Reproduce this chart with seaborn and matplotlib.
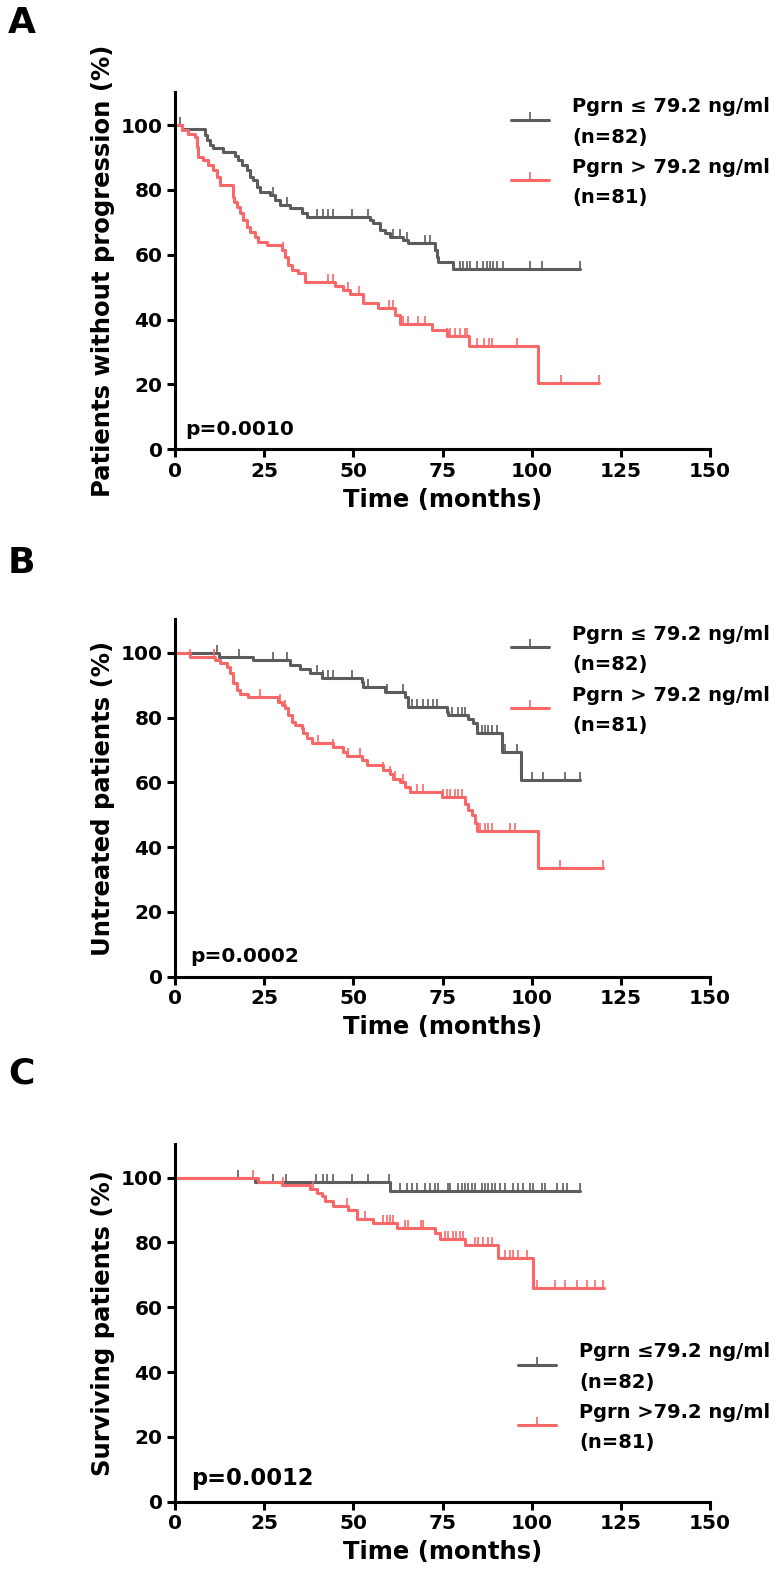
import numpy as np
import pandas as pd
import matplotlib
matplotlib.use("Agg")
import matplotlib.pyplot as plt
import seaborn as sns
from matplotlib.lines import Line2D
from matplotlib.legend_handler import HandlerLine2D

# ---------------- data ----------------
# Panel A: progression-free
A_low_t = [0, 2.0, 8.4, 9.0, 9.8, 10.6, 13.5, 16.8, 17.8, 18.7, 20.1, 21.0, 22.0, 23.1, 23.8, 26.6, 28.0, 29.4,
           32.2, 35.5, 36.9, 54.7, 55.6, 57.5, 58.9, 60.3, 64.0, 65.4, 72.9, 73.4, 73.8, 78.0, 113.5]
A_low_s = [100, 98.8, 96.9, 95.4, 94.0, 92.8, 91.8, 90.4, 89.2, 87.6, 86.1, 84.1, 83.1, 81.0, 79.4, 78.4, 76.9, 75.3,
           74.3, 72.8, 71.7, 70.7, 69.7, 67.6, 66.6, 65.6, 64.5, 63.5, 61.4, 59.4, 57.9, 55.6, 55.6]
A_low_c = [1.5, 27.6, 31.3, 39.7, 41.6, 43.0, 44.4, 49.5, 54.2, 61.2, 63.1, 65.0, 70.1, 71.5, 79.9, 80.8, 81.8,
           82.7, 84.6, 86.4, 87.4, 88.3, 89.2, 90.2, 92.1, 99.5, 102.8, 113.5]
A_high_t = [0, 1.9, 3.7, 5.6, 6.1, 6.5, 7.9, 9.3, 10.7, 11.7, 12.6, 16.2, 16.6, 17.3, 18.2, 19.2, 20.1, 21.0, 22.4,
            23.4, 25.7, 29.9, 30.8, 31.8, 32.7, 34.6, 36.4, 44.8, 47.1, 49.1, 52.6, 56.8, 61.6, 63.0, 72.1, 76.2,
            82.5, 101.8, 118.8]
A_high_s = [100, 98.5, 97.4, 96.4, 93.3, 90.2, 89.2, 87.6, 86.1, 84.1, 81.5, 77.9, 76.3, 74.8, 72.8, 70.7, 68.6,
            67.1, 65.5, 63.9, 62.9, 61.4, 59.3, 56.7, 55.2, 54.3, 51.6, 50.4, 49.2, 47.9, 45.2, 43.6, 41.5, 38.8,
            36.7, 35.1, 31.9, 20.6, 20.6]
A_high_c = [30.3, 42.9, 44.3, 48.5, 51.5, 52.7, 60.0, 61.1, 63.9, 65.3, 68.1, 70.2, 76.3, 77.0, 78.4, 79.8, 81.2,
            81.9, 84.6, 86.7, 88.1, 88.8, 95.8, 108.3, 118.8]

# Panel B: untreated
B_low_t = [0, 12.2, 22.0, 32.2, 35.0, 37.9, 41.1, 52.3, 52.8, 58.9, 64.5, 65.4, 76.2, 76.6, 82.2, 83.6, 84.6,
           91.6, 96.9, 113.5]
B_low_s = [100, 98.6, 97.6, 96.3, 94.9, 93.7, 92.3, 90.9, 89.5, 88.0, 86.4, 83.1, 81.8, 80.8, 79.4, 78.2, 75.3,
           69.4, 60.7, 60.7]
B_low_c = [11.7, 18.0, 27.6, 31.3, 39.7, 41.6, 43.0, 44.4, 49.5, 54.2, 59.3, 64.0, 66.4, 67.8, 69.6, 71.0, 72.4,
           73.4, 77.6, 79.4, 80.4, 81.3, 86.0, 86.9, 87.8, 88.8, 90.2, 92.5, 95.8, 100.0, 103.3, 109.3, 113.5]
B_high_t = [0, 4.2, 11.2, 12.6, 14.5, 15.4, 16.4, 17.3, 18.2, 20.6, 29.0, 29.9, 30.8, 31.8, 32.7, 33.6, 35.5,
            36.0, 36.9, 38.3, 44.4, 47.2, 48.1, 52.3, 53.7, 58.4, 60.3, 61.2, 63.1, 64.5, 65.9, 74.8, 81.3, 82.2,
            83.2, 84.1, 84.6, 101.9, 120.0]
B_high_s = [100, 98.8, 97.8, 96.9, 95.7, 93.6, 90.5, 88.5, 87.4, 86.4, 84.9, 83.9, 82.9, 80.8, 78.7, 77.7, 76.7,
            75.1, 73.6, 72.2, 71.0, 69.4, 68.1, 66.8, 65.3, 63.7, 62.7, 61.1, 60.1, 58.7, 57.0, 55.5, 53.4, 51.4,
            49.8, 47.3, 45.0, 33.7, 33.7]
B_high_c = [4.2, 10.8, 23.8, 29.4, 30.8, 40.2, 44.4, 48.6, 51.9, 58.4, 60.3, 61.7, 64.0, 67.8, 69.6, 75.2, 76.2,
            77.1, 78.5, 79.4, 80.4, 85.5, 86.9, 87.8, 88.8, 93.9, 95.3, 107.9, 120.0]

# Panel C: survival
C_low_t = [0, 22.4, 60.3, 113.5]
C_low_s = [100, 98.8, 95.9, 95.9]
C_low_c = [17.8, 27.6, 31.1, 39.4, 41.6, 42.5, 44.4, 49.5, 54.2, 60.0, 63.1, 65.0, 66.4, 67.8, 70.1, 71.5, 72.9,
           73.8, 76.6, 77.1, 79.4, 80.4, 81.3, 82.2, 83.2, 84.1, 86.0, 86.9, 87.8, 88.8, 89.7, 91.1, 92.5, 94.9,
           96.3, 97.7, 99.5, 100.5, 102.8, 103.7, 107.0, 108.9, 109.8, 113.5]
C_high_t = [0, 23.4, 29.9, 37.9, 39.7, 41.1, 42.1, 44.4, 48.6, 50.9, 55.6, 62.2, 73.0, 74.2, 81.3, 90.7, 100.5, 120.3]
C_high_s = [100, 98.8, 97.6, 96.6, 95.3, 94.3, 92.8, 91.2, 90.0, 87.1, 85.9, 84.5, 82.8, 81.2, 79.2, 75.3, 65.9, 65.9]
C_high_c = [22.0, 30.4, 38.8, 48.1, 53.3, 58.4, 59.3, 60.3, 61.2, 64.5, 65.4, 69.1, 69.6, 75.7, 76.6, 78.0, 78.9,
            79.9, 80.8, 84.1, 85.0, 86.4, 87.8, 88.8, 92.5, 93.9, 94.9, 96.3, 98.6, 101.4, 106.5, 109.3, 112.6,
            115.4, 117.8, 120.1]

panel_letters = ["A", "B", "C"]
y_labels = ["Patients without progression (%)", "Untreated patients (%)", "Surviving patients (%)"]
p_texts = ["p=0.0010", "p=0.0002", "p=0.0012"]
legend_labels = [
    ["Pgrn \u2264 79.2 ng/ml\n(n=82)", "Pgrn > 79.2 ng/ml\n(n=81)"],
    ["Pgrn \u2264 79.2 ng/ml\n(n=82)", "Pgrn > 79.2 ng/ml\n(n=81)"],
    ["Pgrn \u226479.2 ng/ml\n(n=82)", "Pgrn >79.2 ng/ml\n(n=81)"],
]
x_label = "Time (months)"
x_ticks = [0, 25, 50, 75, 100, 125, 150]
y_ticks = [0, 20, 40, 60, 80, 100]

# ---------------- style ----------------
sns.set_theme(style="ticks")
plt.rcParams.update({
    "font.weight": "bold",
    "axes.labelweight": "bold",
    "axes.linewidth": 2.2,
    "xtick.major.width": 2.2,
    "ytick.major.width": 2.2,
    "xtick.major.size": 6,
    "ytick.major.size": 6,
    "xtick.major.pad": 3,
    "ytick.major.pad": 3,
    "xtick.color": "black",
    "ytick.color": "black",
    "axes.edgecolor": "black",
    "text.color": "black",
    "axes.labelcolor": "black",
})
plt.rcParams["font.family"] = ["DejaVu Sans"]

GREY = "#5c5c5c"
RED = "#f86868"

W, H = 775, 1594
fig = plt.figure(figsize=(W / 100, H / 100), dpi=100)


class RaisedLineHandler(HandlerLine2D):
    """Legend line drawn slightly above the centre of the two-line label."""
    def create_artists(self, legend, orig_handle, xdescent, ydescent, width, height, fontsize, trans):
        arts = super().create_artists(legend, orig_handle, xdescent, ydescent, width, height, fontsize, trans)
        for a in arts:
            a.set_ydata(np.asarray(a.get_ydata(), dtype=float) + 0.16 * fontsize)
        return arts


def add_ax(left, top, right, bottom):
    return fig.add_axes([left / W, 1 - bottom / H, (right - left) / W, (bottom - top) / H])


def step_val(t, s, c):
    t = np.asarray(t)
    s = np.asarray(s)
    idx = np.searchsorted(t, np.asarray(c), side="right") - 1
    return s[np.clip(idx, 0, len(s) - 1)]


boxes = [(175, 91.7, 710, 449.3), (175, 619.3, 710, 976.8), (175, 1144.3, 710, 1501.7)]
series = [
    ((A_low_t, A_low_s, A_low_c), (A_high_t, A_high_s, A_high_c)),
    ((B_low_t, B_low_s, B_low_c), (B_high_t, B_high_s, B_high_c)),
    ((C_low_t, C_low_s, C_low_c), (C_high_t, C_high_s, C_high_c)),
]
legend_anchor = [(0.6275, 0.984), (0.6275, 0.984), (0.641, 0.446)]
p_pos = [(3.0, 4.4), (4.4, 4.7), (4.4, 5.0)]
p_size = [14.5, 14.5, 16.3]
letter_base = [33, 573, 1083]

for i in range(3):
    ax = add_ax(*boxes[i])
    for (t, s, c), col in zip(series[i], [GREY, RED]):
        df = pd.DataFrame({"t": t, "s": s})
        sns.lineplot(data=df, x="t", y="s", ax=ax, color=col, lw=2.2, estimator=None, sort=False,
                     drawstyle="steps-post", legend=False)
        cy = step_val(t, s, c)
        ax.plot(c, cy, ls="none", marker=2, ms=5.5, mew=1.2, color=col, clip_on=False)
    ax.set_xlim(0, 150)
    ax.set_ylim(0, 110.3)
    ax.set_xticks(x_ticks)
    ax.set_yticks(y_ticks)
    ax.tick_params(labelsize=14.5)
    for lab in ax.get_xticklabels() + ax.get_yticklabels():
        lab.set_fontweight("bold")
    sns.despine(ax=ax)
    ax.set_xlabel(x_label, fontsize=17.5, fontweight="bold", labelpad=5)
    ax.set_ylabel(y_labels[i], fontsize=17.5, fontweight="bold", labelpad=4)
    ax.text(p_pos[i][0], p_pos[i][1], p_texts[i], fontsize=p_size[i], fontweight="bold", va="baseline")
    handles = [Line2D([0], [0], color=GREY, lw=2.2, marker=2, ms=6, mew=1.2),
               Line2D([0], [0], color=RED, lw=2.2, marker=2, ms=6, mew=1.2)]
    leg = ax.legend(handles, legend_labels[i], loc="upper left", bbox_to_anchor=legend_anchor[i],
                    frameon=False, handlelength=1.95, handletextpad=1.2, labelspacing=0.58,
                    borderaxespad=0, borderpad=0, numpoints=1,
                    handler_map={Line2D: RaisedLineHandler()},
                    prop={"weight": "bold", "size": 14})
    for tx in leg.get_texts():
        tx.set_linespacing(1.75)
    fig.text(8 / W, 1 - letter_base[i] / H, panel_letters[i], fontsize=26, fontweight="bold", va="baseline")

fig.savefig("out.png", dpi=100)
